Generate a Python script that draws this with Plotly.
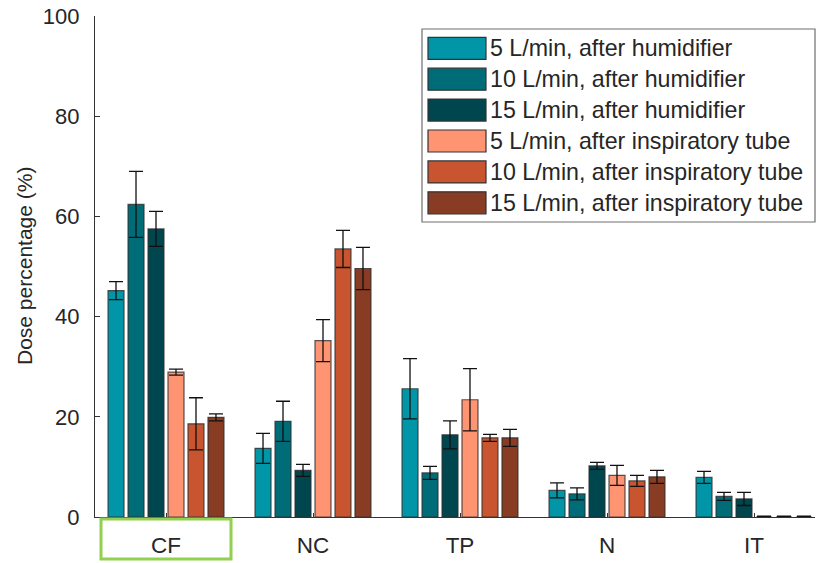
import plotly.graph_objects as go

categories = ["CF", "NC", "TP", "N", "IT"]
series_names = [
    "5 L/min, after humidifier",
    "10 L/min, after humidifier",
    "15 L/min, after humidifier",
    "5 L/min, after inspiratory tube",
    "10 L/min, after inspiratory tube",
    "15 L/min, after inspiratory tube",
]
colors = ["#0096A8", "#006C78", "#00464E", "#FF9473", "#C8552F", "#873C23"]

h5_vals = [45.2, 13.7, 25.6, 5.3, 7.9]
h5_err = [1.8, 3.0, 6.0, 1.5, 1.2]
h10_vals = [62.4, 19.1, 8.8, 4.6, 4.1]
h10_err = [6.6, 4.0, 1.3, 1.2, 0.8]
h15_vals = [57.5, 9.3, 16.4, 10.2, 3.6]
h15_err = [3.5, 1.2, 2.8, 0.7, 1.3]
i5_vals = [28.9, 35.2, 23.4, 8.3, 0.0]
i5_err = [0.6, 4.2, 6.2, 2.0, 0.15]
i10_vals = [18.6, 53.5, 15.8, 7.2, 0.0]
i10_err = [5.2, 3.7, 0.7, 1.1, 0.15]
i15_vals = [19.9, 49.6, 15.8, 8.0, 0.0]
i15_err = [0.7, 4.2, 1.7, 1.3, 0.15]

values = [h5_vals, h10_vals, h15_vals, i5_vals, i10_vals, i15_vals]
errors = [h5_err, h10_err, h15_err, i5_err, i10_err, i15_err]

y_ticks = [0, 20, 40, 60, 80, 100]

FONT = "Liberation Sans, Arial, sans-serif"
TXT = "#262626"

# body margin is removed in the page, so figure fills the 819x563 window
W, H = 819, 563
# plot area in page pixels: x 95..815, y 16..517
PL, PR, PT, PB = 95, 815, 16, 517
ML = PL
MR = W - PR
MT = PT
MB = H - PB
PW = PR - PL
PH = PB - PT


def px(x):
    return (x - PL) / PW


def py(y):
    return (PB - y) / PH


xpos = list(range(len(categories)))

fig = go.Figure()
for name, col, v, e in zip(series_names, colors, values, errors):
    fig.add_trace(go.Bar(
        x=xpos, y=v, name=name,
        marker=dict(color=col, line=dict(color="rgba(45,45,45,0.8)", width=1.2)),
        error_y=dict(type="data", array=e, visible=True, color="#111111",
                     thickness=1.3, width=7),
        showlegend=False,
    ))

shapes = []
annotations = []

# custom legend box
shapes.append(dict(type="rect", xref="paper", yref="paper",
                   x0=px(422), x1=px(815), y0=py(222), y1=py(29),
                   line=dict(color="#6e6e6e", width=1.2), fillcolor="white", layer="above"))
for i, (name, col) in enumerate(zip(series_names, colors)):
    cy = 48.3 + 30.9 * i
    shapes.append(dict(type="rect", xref="paper", yref="paper",
                       x0=px(428), x1=px(486), y0=py(cy + 11), y1=py(cy - 11),
                       line=dict(color="#333333", width=1.2), fillcolor=col, layer="above"))
    annotations.append(dict(xref="paper", yref="paper", x=px(488), y=py(cy),
                            xanchor="left", yanchor="middle", text=name, showarrow=False,
                            font=dict(family=FONT, size=23.2, color=TXT)))

# green highlight box around CF label
shapes.append(dict(type="rect", xref="paper", yref="paper",
                   x0=px(101), x1=px(231), y0=py(559), y1=py(519),
                   line=dict(color="#92D050", width=3)))

# y-axis title
annotations.append(dict(xref="paper", yref="paper", x=px(24), y=py(266),
                        xanchor="center", yanchor="middle", textangle=-90,
                        text="Dose percentage (%)", showarrow=False,
                        font=dict(family=FONT, size=21, color=TXT)))

fig.update_layout(
    width=W, height=H,
    margin=dict(l=ML, r=MR, t=MT, b=MB, pad=0, autoexpand=False),
    paper_bgcolor="white", plot_bgcolor="white",
    barmode="group", bargap=0.184, bargroupgap=0.2,
    font=dict(family=FONT, color=TXT),
    shapes=shapes, annotations=annotations,
    showlegend=False,
)
fig.update_xaxes(
    range=[-0.483, 4.415], tickvals=xpos, ticktext=categories,
    showline=True, linecolor="#333333", linewidth=1.2,
    ticks="inside", ticklen=4, tickcolor="#333333", automargin=False,
    showgrid=False, zeroline=False, ticklabeloverflow="allow",
    tickfont=dict(family=FONT, size=22.5, color=TXT), ticklabelstandoff=8,
)
fig.update_yaxes(
    range=[0, 100], tickvals=y_ticks,
    showline=True, linecolor="#333333", linewidth=1.2,
    ticks="inside", ticklen=5, tickcolor="#333333", automargin=False,
    showgrid=False, zeroline=False, ticklabeloverflow="allow",
    tickfont=dict(family=FONT, size=22, color=TXT), ticklabelstandoff=10,
)

fig.write_html(
    "out.html",
    config={"displayModeBar": False},
    post_script="document.body.style.margin='0px';document.body.style.overflow='hidden';",
)
